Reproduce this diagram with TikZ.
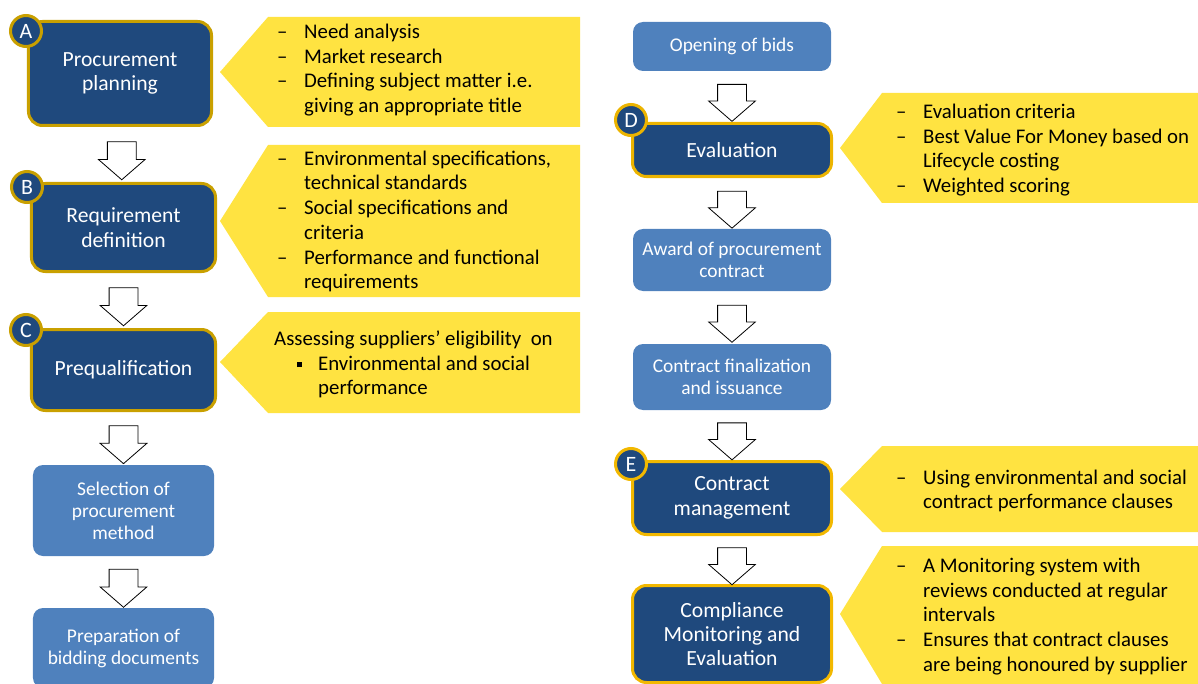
\documentclass[tikz,border=0pt]{standalone}
\usepackage{fontspec}
\setmainfont{Carlito}
\usetikzlibrary{shapes.arrows,calc}
\definecolor{navy}{HTML}{1F497D}
\definecolor{steel}{HTML}{4F81BD}
\definecolor{lemon}{HTML}{FFE341}
\definecolor{goldL}{HTML}{C9A000}
\definecolor{goldR}{HTML}{F2B800}
\newcommand{\dsh}{\makebox[27bp][l]{--}}
\newcommand{\ind}{\hspace*{27bp}}

\begin{document}
\begin{tikzpicture}[x=1bp,y=-1bp]
			\tikzset{darkbox/.style={rectangle, rounded corners=14bp, fill=navy, draw=goldL, line width=3bp, text=white, align=center, inner sep=0pt, font=\fontsize{21.7}{24.5}\selectfont}}
			\tikzset{lightbox/.style={rectangle, rounded corners=10bp, fill=steel, text=white, align=center, inner sep=0pt, minimum width=198bp, font=\fontsize{19.5}{22}\selectfont}}
			\tikzset{badge/.style={circle, fill=navy, draw=goldL, line width=3bp, text=white, inner sep=0pt, minimum size=31bp, font=\fontsize{22}{22}\selectfont}}
			\tikzset{downarrow/.style={single arrow, draw=black, fill=white, line width=0.8bp, rotate=-90, inner xsep=0pt, inner ysep=14bp, minimum width=46bp, single arrow head extend=9bp, single arrow tip angle=98, minimum height=38bp}}
			\tikzset{note/.style={anchor=west, align=left, inner sep=0pt, font=\fontsize{20.9}{24.8}\selectfont}}
			\tikzset{callout/.style={fill=lemon}}

			\useasboundingbox (0,0) rectangle (1198,684);

			\fill[callout] (268,17) -- (580,17) -- (580,127) -- (268,127) -- (220,72) -- cycle;
			\fill[callout] (268,145) -- (580,145) -- (580,297) -- (268,297) -- (220,221) -- cycle;
			\fill[callout] (268,312) -- (580,312) -- (580,413) -- (268,413) -- (220,362) -- cycle;
			\fill[callout] (882,93) -- (1198,93) -- (1198,203) -- (882,203) -- (840,148) -- cycle;
			\fill[callout] (882,446) -- (1198,446) -- (1198,532) -- (882,532) -- (840,489) -- cycle;
			\fill[callout] (882,546) -- (1198,546) -- (1198,684) -- (882,684) -- (840,614) -- cycle;

			\draw (120,73.5) node [darkbox, minimum width=183bp, minimum height=104bp] (PLAN) {Procurement\\planning};
			\draw (123.5,227.5) node [darkbox, minimum width=184bp, minimum height=88bp] (REQ) {Requirement\\definition};
			\draw (123.5,370) node [darkbox, minimum width=184bp, minimum height=81bp] (PREQ) {Prequalification};
			\draw (123.5,510.5) node [lightbox, minimum width=181bp, minimum height=91bp] (SEL) {Selection of\\procurement\\method};
			\draw (123.5,648) node [lightbox, minimum width=181bp, minimum height=80bp] (PREP) {Preparation of\\bidding documents};

			\draw (732,46.5) node [lightbox, minimum height=49bp] (OPEN) {Opening of bids};
			\draw (732,150) node [darkbox, draw=goldR!85!goldL, minimum width=199bp, minimum height=53bp] (EVAL) {Evaluation};
			\draw (732,260) node [lightbox, minimum height=62bp] (AWARD) {Award of procurement\\contract};
			\draw (732,377) node [lightbox, minimum height=66bp] (FIN) {Contract finalization\\and issuance};
			\draw (732,498) node [darkbox, draw=goldR, minimum width=199bp, minimum height=73bp] (CM) {Contract\\management};
			\draw (732,634) node [darkbox, draw=goldR, minimum width=199bp, minimum height=97bp] (CME) {Compliance\\Monitoring and\\Evaluation};

			\draw (26,31) node [badge] (BA) {A};
			\draw (27,187) node [badge] (BB) {B};
			\draw (26,330) node [badge] (BC) {C};
			\draw (631,120) node [badge, draw=goldR!85!goldL] (BD) {D};
			\draw (631,464) node [badge, draw=goldR] (BE) {E};

			\draw ($(PLAN.south)!0.5!(REQ.north)$) node [downarrow] (ARR1) {};
			\draw ($(REQ.south)!0.5!(PREQ.north)$) node [downarrow] (ARR2) {};
			\draw ($(PREQ.south)!0.5!(SEL.north)$) node [downarrow] (ARR3) {};
			\draw ($(SEL.south)!0.5!(PREP.north)$) node [downarrow] (ARR4) {};
			\draw ($(OPEN.south)!0.5!(EVAL.north)$) node [downarrow, minimum height=37bp] (ARR5) {};
			\draw ($(EVAL.south)!0.5!(AWARD.north)$) node [downarrow, minimum height=37bp] (ARR6) {};
			\draw ($(AWARD.south)!0.5!(FIN.north)$) node [downarrow, minimum height=37bp] (ARR7) {};
			\draw ($(FIN.south)!0.5!(CM.north)$) node [downarrow, minimum height=37bp] (ARR8) {};
			\draw ($(CM.south)!0.5!(CME.north)$) node [downarrow, minimum height=37bp] (ARR9) {};

			\draw (277,70) node [note] (NPLAN) {\dsh Need analysis\\ \dsh Market research\\ \dsh Defining subject matter i.e.\\ \ind giving an appropriate title};
			\draw (277,221.5) node [note] (NREQ) {\dsh Environmental specifications,\\ \ind technical standards\\ \dsh Social specifications and\\ \ind criteria\\ \dsh Performance and functional\\ \ind requirements};
			\draw (274,364.5) node [note] (NPREQ) {Assessing suppliers’ eligibility\ \ on\\ \hspace*{23bp}\makebox[21bp][l]{\rule[3bp]{5bp}{5bp}}Environmental and social\\ \hspace*{44bp}performance};
			\draw (896,150) node [note] (NEVAL) {\dsh Evaluation criteria\\ \dsh Best Value For Money based on\\ \ind Lifecycle costing\\ \dsh Weighted scoring};
			\draw (896,491) node [note] (NCM) {\dsh Using environmental and social\\ \ind contract performance clauses};
			\draw (896,616.5) node [note] (NCME) {\dsh A Monitoring system with\\ \ind reviews conducted at regular\\ \ind intervals\\ \dsh Ensures that contract clauses\\ \ind are being honoured by supplier};
		\end{tikzpicture}
\end{document}
